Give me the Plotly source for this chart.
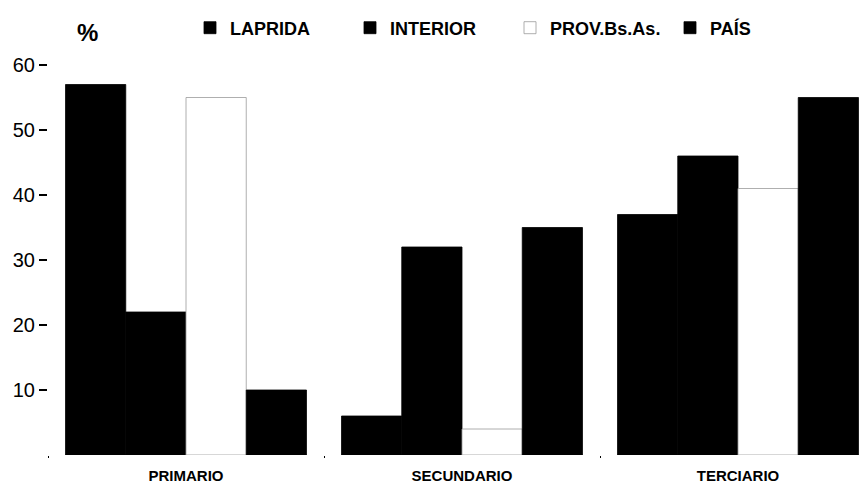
import plotly.graph_objects as go

categories = ["PRIMARIO", "SECUNDARIO", "TERCIARIO"]
series_names = ["LAPRIDA", "INTERIOR", "PROV.Bs.As.", "PAÍS"]
laprida = [57, 6, 37]
interior = [22, 32, 46]
prov_bsas = [55, 4, 41]
pais = [10, 35, 55]
y_ticks = [10, 20, 30, 40, 50, 60]

values = [laprida, interior, prov_bsas, pais]
fills = ["#000000", "#000000", "#ffffff", "#000000"]
edges = ["#000000", "#000000", "#9a9a9a", "#000000"]

fig = go.Figure()
for name, vals, fc, ec in zip(series_names, values, fills, edges):
    fig.add_trace(go.Bar(
        x=categories, y=vals, name=name,
        marker=dict(color=fc, line=dict(color=ec, width=0.8)),
    ))

W, H = 865, 484
ml, mr, mt, mb = 48, 0, 65, 29
cat_px = 276
x_hi = -0.5 + (W - ml - mr) / cat_px
pw, ph = W - ml - mr, H - mt - mb

fig.update_layout(
    width=W, height=H,
    margin=dict(l=ml, r=mr, t=mt, b=mb, pad=0, autoexpand=False),
    paper_bgcolor="white", plot_bgcolor="white",
    barmode="group", bargap=0.127, bargroupgap=0,
    font=dict(family="Liberation Sans, Arial, sans-serif", color="black"),
    showlegend=True,
    legend=dict(
        orientation="h", x=(190 - ml) / pw, xanchor="left",
        y=1 + (mt - 28) / ph, yanchor="middle",
        entrywidth=115, entrywidthmode="pixels", itemwidth=30,
        font=dict(size=18, family="Liberation Sans, Arial, sans-serif", weight="bold"),
        bgcolor="rgba(0,0,0,0)", traceorder="normal",
    ),
    annotations=[dict(
        text="<b>%</b>", xref="paper", yref="paper",
        x=(75 - ml) / pw, y=1 + (mt - 32) / ph, yanchor="middle",
        showarrow=False, font=dict(size=24),
    )],
)

fig.update_xaxes(
    range=[-0.5, x_hi], showgrid=False, showline=False, zeroline=False,
    ticks="outside", tickson="boundaries", ticklen=2, tickcolor="black",
    ticklabelstandoff=10,
    tickfont=dict(size=15, family="Liberation Sans, Arial, sans-serif", weight="bold"),
)
fig.update_yaxes(
    range=[0, 60], showgrid=False, showline=False, zeroline=False,
    tickvals=y_ticks, ticktext=[str(v) for v in y_ticks],
    ticks="outside", ticklen=8, tickwidth=2, tickcolor="black",
    tickfont=dict(size=20, family="Liberation Sans, Arial, sans-serif"),
)

fig.write_html("out.html", config={"displayModeBar": False},
               post_script="document.body.style.margin='0px';")
